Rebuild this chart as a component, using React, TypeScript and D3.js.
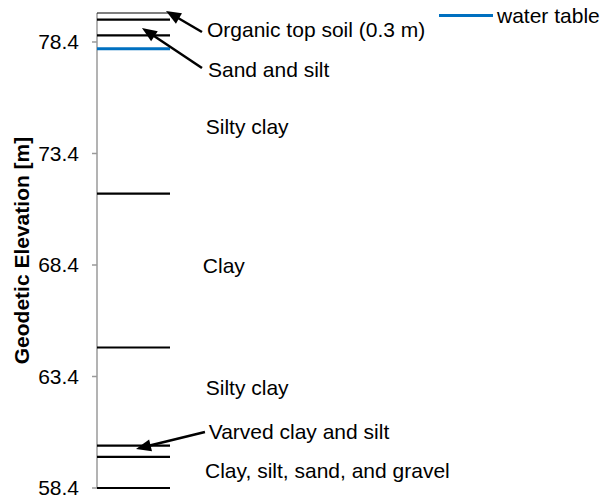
import React from "react";
import * as d3 from "d3";

// Layer boundaries (geodetic elevation, m)
const groundSurface = 79.7;
const layerBoundaries = [79.4, 78.7, 71.6, 64.7, 60.3, 59.8, 58.4];
const waterTable = 78.1;
const yTicks = [58.4, 63.4, 68.4, 73.4, 78.4];
const yDomain: [number, number] = [58.4, 79.7];

// Layer labels: x in layer-width units (0..1 = line length), y in elevation
const labelTexts = [
  "Organic top soil (0.3 m)",
  "Sand and silt",
  "Silty clay",
  "Clay",
  "Silty clay",
  "Varved clay and silt",
  "Clay, silt, sand, and gravel",
];
const labelX = [1.507, 1.52, 1.49, 1.45, 1.49, 1.53, 1.48];
const labelY = [78.94, 77.14, 74.59, 68.36, 62.88, 60.91, 59.16];

// Arrows: tail -> tip
const arrowTailX = [1.438, 1.438, 1.479];
const arrowTailY = [78.85, 77.23, 60.91];
const arrowTipX = [0.945, 0.616, 0.534];
const arrowTipY = [79.79, 79.03, 60.15];

const legendLabel = "water table";
const axisTitle = "Geodetic Elevation [m]";

const W = 613;
const H = 501;
const FONT = "'Liberation Sans', Arial, Helvetica, sans-serif";
const BLUE = "#0070C0";

export default function App() {
  const y = d3.scaleLinear().domain(yDomain).range([488, 13]);
  const x = d3.scaleLinear().domain([0, 1]).range([97, 170]);

  const arrowHead = (tx: number, ty: number, fx: number, fy: number) => {
    const dx = tx - fx;
    const dy = ty - fy;
    const len = Math.hypot(dx, dy);
    const ux = dx / len;
    const uy = dy / len;
    const L = 15;
    const hw = 6;
    const bx = tx - ux * L;
    const by = ty - uy * L;
    const pts = [
      [tx, ty],
      [bx - uy * hw, by + ux * hw],
      [bx + uy * hw, by - ux * hw],
    ];
    return pts.map((p) => p.join(",")).join(" ");
  };

  return (
    <svg
      width={W}
      height={H}
      style={{ position: "absolute", left: 0, top: 0, background: "#fff" }}
      fontFamily={FONT}
    >
      <rect x={0} y={0} width={W} height={H} fill="#fff" />
      {/* axis line */}
      <line x1={x(0)} x2={x(0)} y1={y(yDomain[0])} y2={y(yDomain[1])} stroke="#9a9a9a" strokeWidth={1.5} />
      {yTicks.map((t) => (
        <g key={t}>
          <line x1={x(0) - 5} x2={x(0)} y1={y(t)} y2={y(t)} stroke="#9a9a9a" strokeWidth={1.5} />
          <text x={x(0) - 18} y={y(t)} dy="0.35em" textAnchor="end" fontSize={21} fill="#000">
            {t.toFixed(1)}
          </text>
        </g>
      ))}
      <text
        transform={`translate(22,${(y(yDomain[0]) + y(yDomain[1])) / 2 + 0}) rotate(-90)`}
        textAnchor="middle"
        dy="0.35em"
        fontSize={21}
        fontWeight="bold"
        fill="#000"
      >
        {axisTitle}
      </text>

      {/* ground surface */}
      <line x1={x(0)} x2={x(1)} y1={y(groundSurface)} y2={y(groundSurface)} stroke="#000" strokeWidth={1.2} />
      {layerBoundaries.map((b, i) => (
        <line key={i} x1={x(0)} x2={x(1)} y1={y(b)} y2={y(b)} stroke="#000" strokeWidth={2.2} />
      ))}
      <line x1={x(0)} x2={x(1)} y1={y(waterTable)} y2={y(waterTable)} stroke={BLUE} strokeWidth={3} />

      {/* labels */}
      {labelTexts.map((t, i) => (
        <text key={i} x={x(labelX[i])} y={y(labelY[i])} dy="0.35em" fontSize={21} fill="#000">
          {t}
        </text>
      ))}

      {/* arrows */}
      {arrowTailX.map((_, i) => {
        const fx = x(arrowTailX[i]);
        const fy = y(arrowTailY[i]);
        const tx = x(arrowTipX[i]);
        const ty = y(arrowTipY[i]);
        const len = Math.hypot(tx - fx, ty - fy);
        const ex = tx - ((tx - fx) / len) * 10;
        const ey = ty - ((ty - fy) / len) * 10;
        return (
          <g key={i}>
            <line x1={fx} y1={fy} x2={ex} y2={ey} stroke="#000" strokeWidth={2.5} />
            <polygon points={arrowHead(tx, ty, fx, fy)} fill="#000" />
          </g>
        );
      })}

      {/* legend */}
      <line x1={439} x2={493} y1={15.5} y2={15.5} stroke={BLUE} strokeWidth={3} />
      <text x={497} y={15.5} dy="0.35em" fontSize={21} fill="#000">
        {legendLabel}
      </text>
    </svg>
  );
}
